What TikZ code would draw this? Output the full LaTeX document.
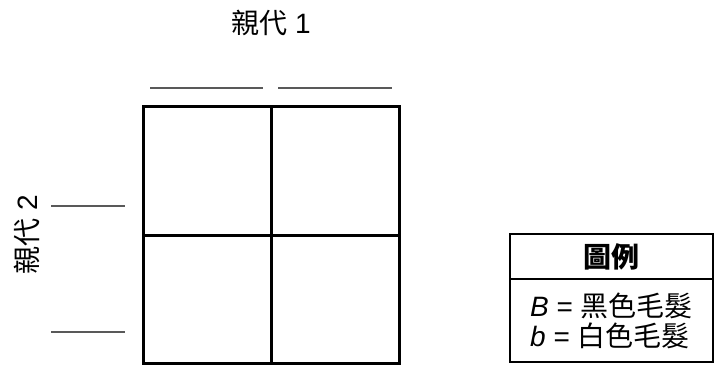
\documentclass[tikz,border=0pt]{standalone}
\usepackage{fontspec}
\setmainfont{Liberation Sans}
\newfontfamily\cjk{Noto Sans CJK TC}
\usetikzlibrary{positioning}
\tikzset{cell/.style = {draw, line width=3pt, minimum size=128pt,
                        inner sep=0pt, outer sep=0pt},
         blank/.style = {draw=black!65, line width=1.5pt},
         keybox/.style = {draw, line width=1.5pt, minimum width=203pt,
                          inner sep=0pt, outer sep=0pt},
         txt/.style = {font=\fontsize{28}{30}\selectfont}}

\begin{document}
\begin{tikzpicture}[x=1pt, y=-1pt]
    \useasboundingbox (0, 0) rectangle (719, 366);
    \node [cell] (c11) at (207, 171) {};
    \node [cell, right=0pt of c11] (c12) {};
    \node [cell, below=0pt of c11] (c21) {};
    \node [cell, right=0pt of c21] (c22) {};

    \node [txt] (p1) at (271, 23) {{\cjk 親代} 1};
    \node [txt, rotate=90] (p2) at (27, 235) {{\cjk 親代} 2};

    \draw [blank] (150, 88) -- (263, 88);
    \draw [blank] (278, 88) -- (392, 88);
    \draw [blank] (51, 206) -- (125, 206);
    \draw [blank] (51, 332) -- (125, 332);

    \node [keybox, txt, minimum height=45pt] (key) at (611.5, 256.5) {\cjk\bfseries 圖例};
    \node [keybox, txt, minimum height=83pt, below=0pt of key, align=left] (keytext)
          {\textit{B} = {\cjk 黑色毛髮}\\ \textit{b} = {\cjk 白色毛髮}};
  \end{tikzpicture}
\end{document}
